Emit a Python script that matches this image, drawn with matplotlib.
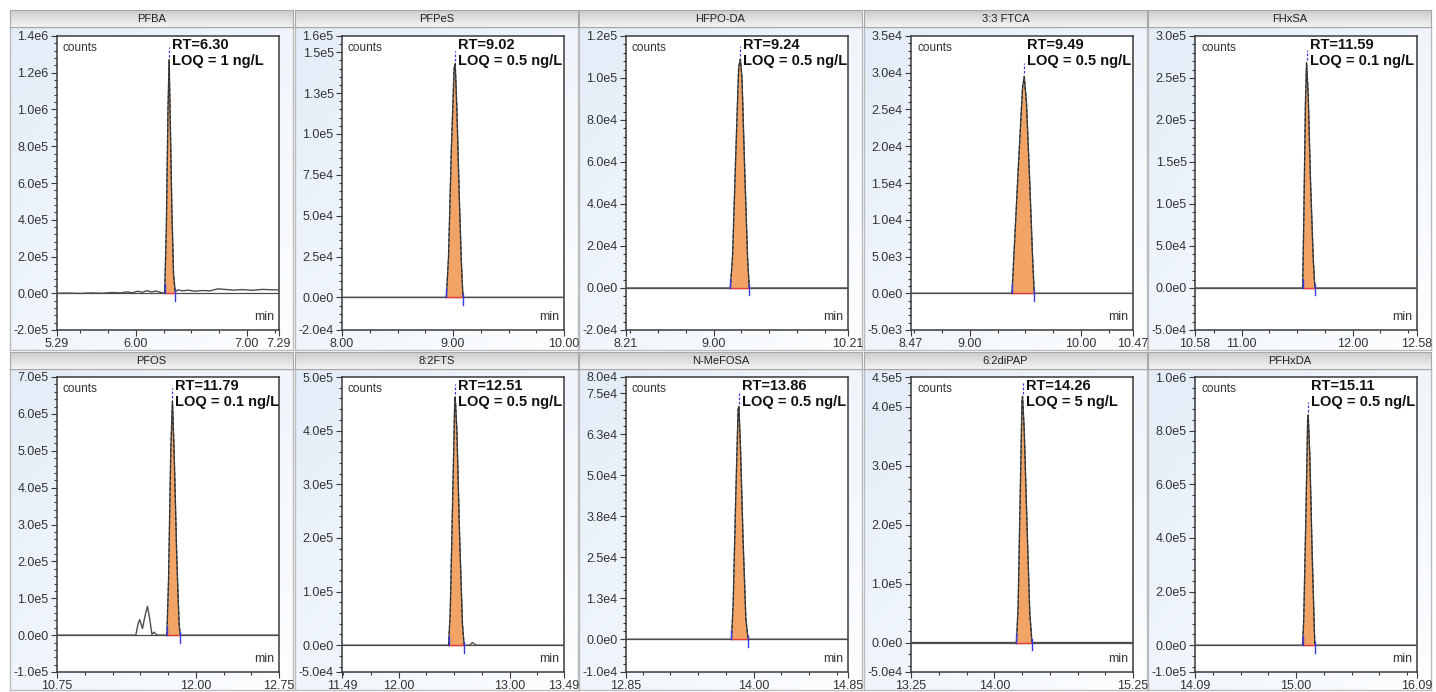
"""Ten-panel extracted-ion chromatogram grid (PFAS standards), recreated as a
screenshot-like figure: grey header bar per compound, light blue panel,
white plot area with the integrated peak filled orange."""
import math
import numpy as np
import matplotlib
matplotlib.use("Agg")
import matplotlib.pyplot as plt
from matplotlib.colors import LinearSegmentedColormap
from matplotlib.ticker import FixedLocator, FuncFormatter, NullFormatter

plt.rcParams["font.family"] = ["Liberation Sans", "DejaVu Sans"]

# ---- data ----
COMPOUNDS = ["PFBA", "PFPeS", "HFPO-DA", "3:3 FTCA", "FHxSA",
             "PFOS", "8:2FTS", "N-MeFOSA", "6:2diPAP", "PFHxDA"]
RT = ["6.30", "9.02", "9.24", "9.49", "11.59",
      "11.79", "12.51", "13.86", "14.26", "15.11"]
LOQ = ["1", "0.5", "0.5", "0.5", "0.1", "0.1", "0.5", "0.5", "5", "0.5"]

X_START = [5.29, 8.00, 8.21, 8.47, 10.58, 10.75, 11.49, 12.85, 13.25, 14.09]
X_END = [7.29, 10.00, 10.21, 10.47, 12.58, 12.75, 13.49, 14.85, 15.25, 16.09]
X_LABELED = [
    [5.29, 6.00, 7.00, 7.29],
    [8.00, 9.00, 10.00],
    [8.21, 9.00, 10.21],
    [8.47, 9.00, 10.00, 10.47],
    [10.58, 11.00, 12.00, 12.58],
    [10.75, 12.00, 12.75],
    [11.49, 12.00, 13.00, 13.49],
    [12.85, 14.00, 14.85],
    [13.25, 14.00, 15.25],
    [14.09, 15.00, 16.09],
]
Y_MIN = [-2e5, -2e4, -2e4, -5e3, -5e4, -1e5, -5e4, -1e4, -5e4, -1e5]
Y_MAX = [1.4e6, 1.6e5, 1.2e5, 3.5e4, 3e5, 7e5, 5e5, 8e4, 4.5e5, 1e6]
Y_STEP = [2e5, 2.5e4, 2e4, 5e3, 5e4, 1e5, 1e5, 1.25e4, 1e5, 2e5]

PEAK_START = [6.26, 8.94, 9.15, 9.38, 11.55, 11.74, 12.45, 13.80, 14.20, 15.06]
PEAK_END = [6.355, 9.09, 9.32, 9.58, 11.66, 11.86, 12.59, 13.95, 14.34, 15.17]

# (time [min], counts) vertices of each trace
TRACE_PFBA = [(5.29, 0), (5.40, 1e3), (5.50, -1e3), (5.60, 2e3), (5.70, 0),
              (5.78, 4e3), (5.86, 2e3), (5.92, 7e3), (5.97, 3e3), (6.02, 1.1e4),
              (6.06, 5e3), (6.10, 1.4e4), (6.14, 7e3), (6.18, 1.2e4), (6.22, 5e3),
              (6.26, 0), (6.275, 3.5e5), (6.29, 1.0e6), (6.30, 1.27e6),
              (6.31, 9.5e5), (6.325, 4.5e5), (6.34, 1.0e5), (6.355, 8e3),
              (6.38, 1.9e4), (6.42, 1.3e4), (6.47, 1.7e4), (6.53, 1.1e4),
              (6.60, 1.5e4), (6.67, 1.3e4), (6.74, 2.4e4), (6.80, 2.1e4),
              (6.88, 1.7e4), (6.96, 2.0e4), (7.05, 1.6e4), (7.14, 2.1e4),
              (7.22, 1.9e4), (7.29, 1.8e4)]
TRACE_PFPES = [(8.00, 0), (8.94, 0), (8.96, 2.5e4), (8.985, 9.0e4), (9.01, 1.40e5),
               (9.02, 1.43e5), (9.035, 1.15e5), (9.055, 6.5e4), (9.075, 2.2e4),
               (9.09, 0), (10.00, 0)]
TRACE_HFPODA = [(8.21, 0), (9.15, 0), (9.17, 1.5e4), (9.20, 6.5e4), (9.225, 1.05e5),
                (9.24, 1.09e5), (9.255, 1.0e5), (9.28, 5.5e4), (9.305, 1.5e4),
                (9.32, 0), (10.21, 0)]
TRACE_FTCA = [(8.47, 0), (9.38, 0), (9.40, 6e3), (9.44, 1.8e4), (9.475, 2.8e4),
              (9.49, 2.95e4), (9.51, 2.6e4), (9.54, 1.5e4), (9.565, 5e3),
              (9.58, 0), (10.47, 0)]
TRACE_FHXSA = [(10.58, 0), (11.55, 0), (11.56, 8e4), (11.575, 2.2e5), (11.585, 2.68e5),
               (11.60, 2.3e5), (11.62, 1.3e5), (11.645, 3.5e4), (11.66, 0), (12.58, 0)]
TRACE_PFOS = [(10.75, 0), (11.46, 0), (11.48, 3.0e4), (11.495, 4.2e4), (11.52, 1.8e4),
              (11.545, 5.5e4), (11.565, 7.8e4), (11.585, 4.5e4), (11.605, 2e3),
              (11.625, 8e3), (11.645, 1e3), (11.67, 0), (11.74, 0), (11.755, 1.5e5),
              (11.775, 5.0e5), (11.79, 6.35e5), (11.805, 5.0e5), (11.83, 2.0e5),
              (11.85, 3e4), (11.86, 0), (12.75, 0)]
TRACE_FTS = [(11.49, 0), (12.45, 0), (12.465, 6e4), (12.49, 3.0e5), (12.505, 4.5e5),
             (12.51, 4.63e5), (12.525, 4.0e5), (12.55, 2.0e5), (12.575, 4e4),
             (12.59, 0), (12.64, 0), (12.665, 5e3), (12.69, 1e3), (12.71, 0), (13.49, 0)]
TRACE_MEFOSA = [(12.85, 0), (13.80, 0), (13.815, 1e4), (13.84, 4.5e4), (13.86, 7.0e4),
                (13.867, 7.1e4), (13.88, 6.0e4), (13.905, 3.0e4), (13.93, 6e3),
                (13.95, 0), (14.85, 0)]
TRACE_DIPAP = [(13.25, 0), (14.20, 0), (14.215, 6e4), (14.235, 2.6e5), (14.25, 4.1e5),
               (14.255, 4.17e5), (14.27, 3.6e5), (14.295, 2.0e5), (14.32, 5e4),
               (14.34, 0), (15.25, 0)]
TRACE_PFHXDA = [(14.09, 0), (15.06, 0), (15.07, 1.0e5), (15.09, 5.0e5), (15.105, 8.4e5),
                (15.11, 8.58e5), (15.125, 7.0e5), (15.145, 3.5e5), (15.165, 6e4),
                (15.17, 0), (16.09, 0)]
TRACES = [TRACE_PFBA, TRACE_PFPES, TRACE_HFPODA, TRACE_FTCA, TRACE_FHXSA,
          TRACE_PFOS, TRACE_FTS, TRACE_MEFOSA, TRACE_DIPAP, TRACE_PFHXDA]

# ---- layout in screen pixels (top-left origin) ----
W, H = 1436, 692
PANEL_X = [10, 295, 579, 864, 1148]
PANEL_W = 283
ROW_TOP = [10, 352]
ROW_BOTTOM = [350, 690]
HEADER_H = 17
AX_TOP = [36, 377]
AX_H = [294, 295]
AX_DX, AX_W = 47, 222

PEAK_FILL = "#f2a467"
TRACE_COL = "#4d4d4d"
FRAME_COL = "#3a3a3a"

panel_cmap = LinearSegmentedColormap.from_list("panel", ["#fdfeff", "#e3edf8"])
header_cmap = LinearSegmentedColormap.from_list("header", ["#cccccc", "#f3f3f3"])


def frac(x, y, w, h):
    return [x / W, 1 - (y + h) / H, w / W, h / H]


def sci_label(v, _pos=None):
    """instrument style: 1.3e4, 0.0e0, -2.0e5 (round half up)."""
    if abs(v) < 1e-9:
        return "0.0e0"
    e = int(math.floor(math.log10(abs(v)) + 1e-12))
    m = math.floor(abs(v) / 10 ** e * 10 + 0.5 + 1e-9) / 10
    if m >= 10:
        m, e = m / 10, e + 1
    return f"{'-' if v < 0 else ''}{m:.1f}e{e}"


def draw_panel(fig, i):
    row, col = divmod(i, 5)
    px = PANEL_X[col]
    hdr_bot = ROW_TOP[row] + HEADER_H

    # light blue panel body, fading to white towards bottom-right
    bg = fig.add_axes(frac(px, hdr_bot, PANEL_W, ROW_BOTTOM[row] - hdr_bot))
    gx, gy = np.meshgrid(np.linspace(0, 1, 64), np.linspace(0, 1, 64))
    bg.imshow(0.5 * (1 - gx) + 0.5 * gy, cmap=panel_cmap, aspect="auto",
              extent=[0, 1, 0, 1], vmin=0, vmax=1, origin="lower")
    bg.set_xticks([])
    bg.set_yticks([])
    for s in bg.spines.values():
        s.set_color("#bcbcbc")
        s.set_linewidth(1.0)

    # grey header bar with the compound name
    hd = fig.add_axes(frac(px, ROW_TOP[row], PANEL_W, HEADER_H))
    hd.imshow(np.linspace(0, 1, 32)[:, None], cmap=header_cmap, aspect="auto",
              extent=[0, 1, 0, 1])
    hd.set_xticks([])
    hd.set_yticks([])
    for s in hd.spines.values():
        s.set_color("#a8a8a8")
        s.set_linewidth(0.8)
    hd.text(0.5, 0.5, COMPOUNDS[i], ha="center", va="center", fontsize=8,
            color="#222222", transform=hd.transAxes)

    ax = fig.add_axes(frac(px + AX_DX, AX_TOP[row], AX_W, AX_H[row]))
    ax.set_facecolor("white")

    t = np.array([p[0] for p in TRACES[i]])
    y = np.array([p[1] for p in TRACES[i]])
    t0, t1 = PEAK_START[i], PEAK_END[i]
    yrange = Y_MAX[i] - Y_MIN[i]

    ax.axhline(0, color=TRACE_COL, lw=0.9, zorder=2)
    ax.plot(t, y, color=TRACE_COL, lw=1.0, zorder=3)
    m = (t >= t0 - 1e-9) & (t <= t1 + 1e-9)
    ax.fill_between(t[m], y[m], 0, color=PEAK_FILL, lw=0, zorder=2.5)
    ax.plot(t[m], y[m], color="#2b2b2b", lw=0.8, ls=(0, (3, 2)), zorder=4)
    ax.plot([t0, t1], [0, 0], color="#e8393a", lw=1.0, zorder=4)

    # integration markers: start, end, apex
    k = int(np.argmax(y))
    ax.plot([t0, t0], [0, 0.03 * yrange], color="#3a3ae0", lw=1.0, zorder=5)
    ax.plot([t1, t1], [0.012 * yrange, -0.025 * yrange], color="#3a3ae0", lw=1.0, zorder=5)
    ax.plot([t[k], t[k]], [y[k] + 0.01 * yrange, y[k] + 0.045 * yrange],
            color="#3a3ae0", lw=0.9, ls=(0, (2, 1.5)), zorder=5)

    ax.annotate(f"RT={RT[i]}\nLOQ = {LOQ[i]} ng/L", xy=(t[k], 1.0),
                xycoords=("data", "axes fraction"), xytext=(3, -2),
                textcoords="offset pixels", ha="left", va="top", fontsize=10.5,
                fontweight="bold", color="#111111", linespacing=1.15, zorder=6)
    ax.annotate("counts", xy=(0, 1), xycoords="axes fraction", xytext=(6, -6),
                textcoords="offset pixels", ha="left", va="top", fontsize=8.5,
                color="#333333")
    ax.annotate("min", xy=(1, 0), xycoords="axes fraction", xytext=(-5, 7),
                textcoords="offset pixels", ha="right", va="bottom", fontsize=9,
                color="#333333")

    ax.set_xlim(X_START[i], X_END[i])
    ax.set_ylim(Y_MIN[i], Y_MAX[i])

    # x: labelled majors + quarter-minute minors
    quarters = np.arange(math.ceil(X_START[i] * 4), math.floor(X_END[i] * 4) + 1) / 4
    ax.xaxis.set_major_locator(FixedLocator(X_LABELED[i]))
    ax.xaxis.set_major_formatter(FuncFormatter(lambda v, p: f"{v:.2f}"))
    ax.xaxis.set_minor_locator(FixedLocator([q for q in quarters
                                             if min(abs(q - v) for v in X_LABELED[i]) > 1e-6]))

    # y: multiples of the step, plus both limits
    step = Y_STEP[i]
    mults = np.arange(math.ceil(Y_MIN[i] / step), math.floor(Y_MAX[i] / step) + 1) * step
    majors = sorted(set(np.round(np.concatenate([[Y_MIN[i], Y_MAX[i]], mults]), 3)))
    minors = np.arange(math.ceil(Y_MIN[i] / (step / 5)),
                       math.floor(Y_MAX[i] / (step / 5)) + 1) * (step / 5)
    ax.yaxis.set_major_locator(FixedLocator(majors))
    ax.yaxis.set_major_formatter(FuncFormatter(sci_label))
    ax.yaxis.set_minor_locator(FixedLocator(minors))
    ax.yaxis.set_minor_formatter(NullFormatter())

    ax.tick_params(which="both", direction="out", color=FRAME_COL, width=0.8,
                   labelsize=9, labelcolor="#333333", pad=1.5)
    ax.tick_params(which="major", length=4.5)
    ax.tick_params(which="minor", length=2.5)
    for s in ax.spines.values():
        s.set_color(FRAME_COL)
        s.set_linewidth(1.1)
    return ax


def main():
    fig = plt.figure(figsize=(W / 100, H / 100), dpi=100)
    fig.patch.set_facecolor("white")
    for i in range(len(COMPOUNDS)):
        draw_panel(fig, i)
    fig.savefig("out.png", dpi=100)
    plt.close(fig)


if __name__ == "__main__":
    main()
